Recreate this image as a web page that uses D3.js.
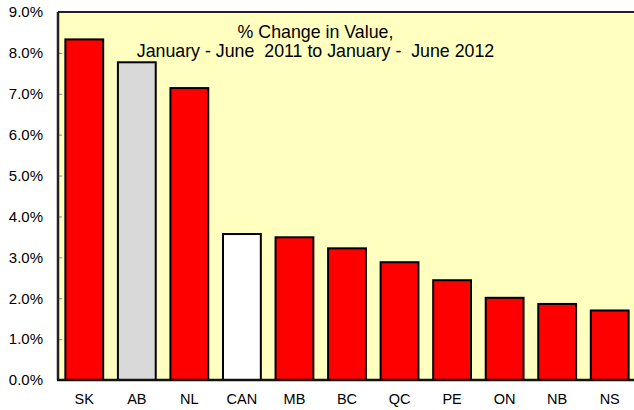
<!DOCTYPE html>
<html>
<head>
<meta charset="utf-8">
<script src="https://cdn.jsdelivr.net/npm/d3@7"></script>
<style>
  body { margin: 0; background: #fff; }
  svg text { font-family: "Liberation Sans", Arial, sans-serif; fill: #000; }
</style>
</head>
<body>
<div id="chart"></div>
<script>
// Data
var provinces = ['SK', 'AB', 'NL', 'CAN', 'MB', 'BC', 'QC', 'PE', 'ON', 'NB', 'NS']
var changes = [8.33, 7.77, 7.14, 3.57, 3.49, 3.22, 2.88, 2.44, 2.01, 1.86, 1.70]
var barFills = ['#FF0000', '#D9D9D9', '#FF0000', '#FFFFFF', '#FF0000', '#FF0000', '#FF0000', '#FF0000', '#FF0000', '#FF0000', '#FF0000']
var yTicks = [0, 1, 2, 3, 4, 5, 6, 7, 8, 9]
var titleLines = ['% Change in Value,', 'January - June  2011 to January -  June 2012']

var svgWidth = 634
var svgHeight = 410
var margin = { top: 12, right: -2, bottom: 30, left: 58 }
var width = svgWidth - margin.left - margin.right
var height = svgHeight - margin.top - margin.bottom

var svg = d3.select('#chart')
  .append('svg')
  .attr('width', svgWidth)
  .attr('height', svgHeight)

var chartGroup = svg.append('g')
  .attr('transform', `translate(${margin.left}, ${margin.top})`)

// plot background
chartGroup.append('rect')
  .attr('x', 0)
  .attr('y', 0)
  .attr('width', width)
  .attr('height', height)
  .attr('fill', '#FFFFC0')

var xScale = d3.scaleBand()
  .domain(provinces)
  .range([0, width])
  .paddingInner(0.28)
  .paddingOuter(0.14)

var yScale = d3.scaleLinear()
  .domain([0, 9])
  .range([height, 0])

// bars
chartGroup.selectAll('rect.bar')
  .data(provinces)
  .enter()
  .append('rect')
  .attr('class', 'bar')
  .attr('x', d => xScale(d))
  .attr('y', (d, i) => yScale(changes[i]))
  .attr('width', xScale.bandwidth())
  .attr('height', (d, i) => height - yScale(changes[i]))
  .attr('fill', (d, i) => barFills[i])
  .attr('stroke', '#000')
  .attr('stroke-width', 2)

// y axis
var leftAxis = d3.axisLeft(yScale)
  .tickValues(yTicks)
  .tickSize(-4)
  .tickPadding(15)
  .tickFormat(d => d3.format('.1f')(d) + '%')

var yAxisG = chartGroup.append('g').call(leftAxis)
yAxisG.select('.domain').remove()
yAxisG.selectAll('line').attr('stroke', '#888')
yAxisG.selectAll('text').style('font-size', '15px')

// x axis labels
var bottomAxis = d3.axisBottom(xScale).tickSize(0).tickPadding(14)
var xAxisG = chartGroup.append('g')
  .attr('transform', `translate(0, ${height})`)
  .call(bottomAxis)
xAxisG.select('.domain').remove()
xAxisG.selectAll('text').style('font-size', '14.5px')

// frame lines
chartGroup.append('line')
  .attr('x1', 0).attr('x2', width)
  .attr('y1', 0).attr('y2', 0)
  .attr('stroke', '#222').attr('stroke-width', 2)
chartGroup.append('line')
  .attr('x1', 0).attr('x2', 0)
  .attr('y1', 0).attr('y2', height)
  .attr('stroke', '#222').attr('stroke-width', 2.5)
chartGroup.append('line')
  .attr('x1', -1).attr('x2', width)
  .attr('y1', height).attr('y2', height)
  .attr('stroke', '#111').attr('stroke-width', 2.5)

// title
chartGroup.append('text')
  .attr('text-anchor', 'middle')
  .attr('xml:space', 'preserve')
  .style('white-space', 'pre')
  .style('font-size', '17.8px')
  .selectAll('tspan')
  .data(titleLines)
  .enter()
  .append('tspan')
  .attr('x', 257.5)
  .attr('y', (d, i) => 26 + i * 18.5)
  .text(d => d)
</script>
</body>
</html>
